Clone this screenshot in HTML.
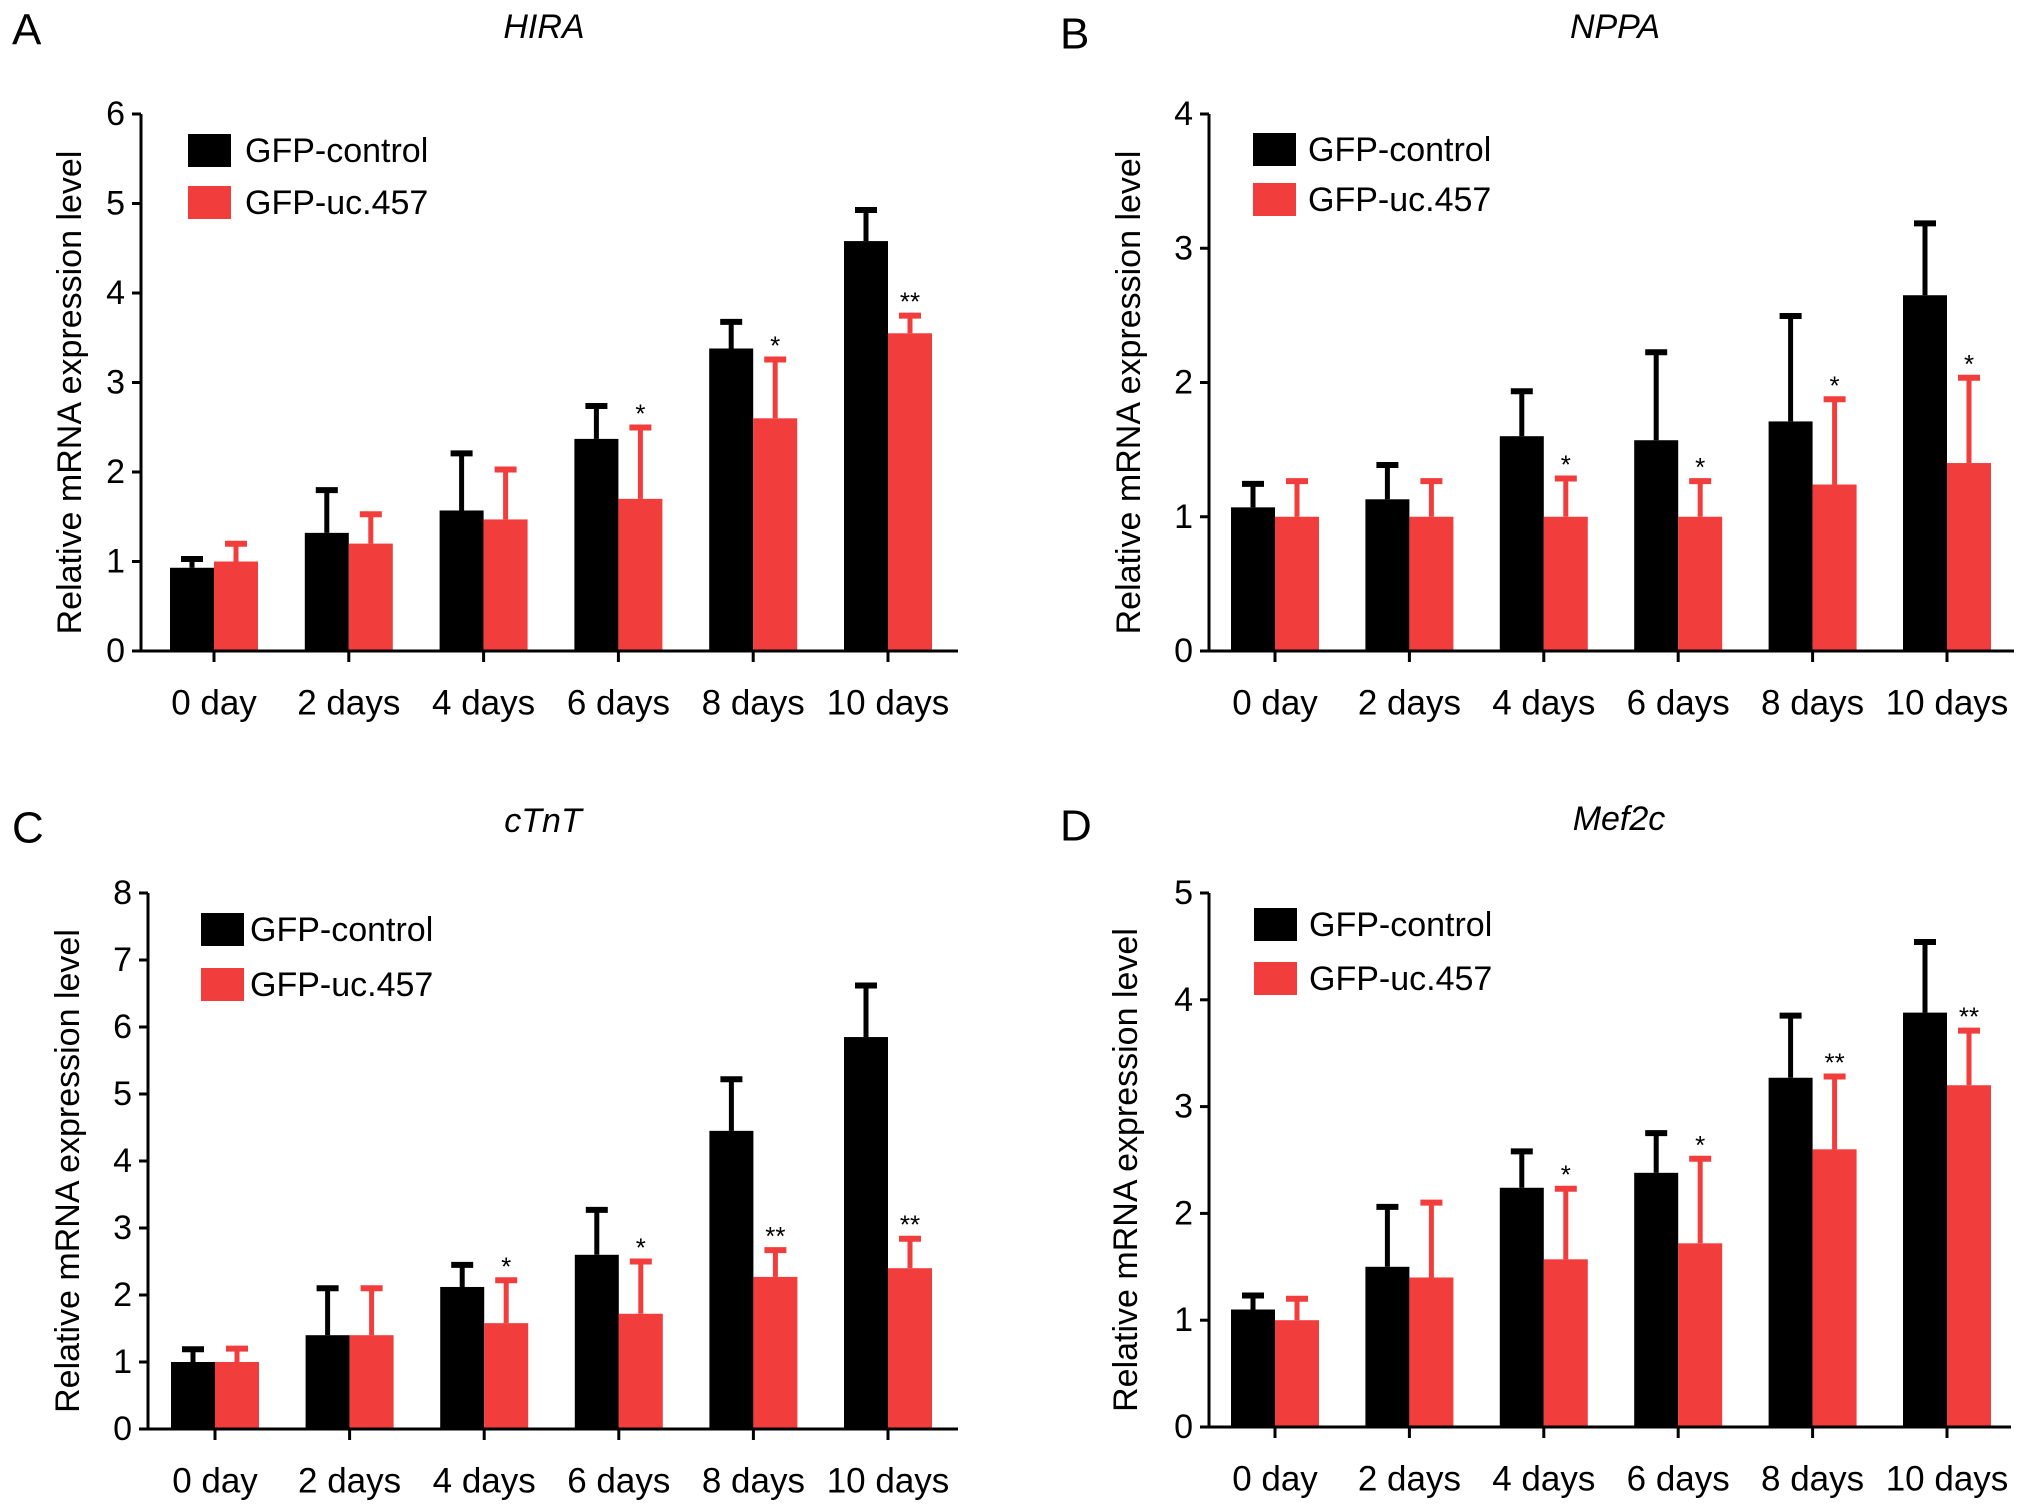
<!DOCTYPE html>
<html><head><meta charset="utf-8">
<style>
html,body{margin:0;padding:0;background:#fff;}
svg{display:block;font-family:"Liberation Sans",Arial,sans-serif;}
</style></head>
<body>
<svg id="fig" width="2032" height="1512" viewBox="0 0 2032 1512"></svg>
<script>
const categories = ["0 day","2 days","4 days","6 days","8 days","10 days"];
const hiraControl = [0.93,1.32,1.57,2.37,3.38,4.58];
const hiraControlErr = [1.05,1.82,2.23,2.76,3.70,4.95];
const hiraUc = [1.0,1.2,1.47,1.7,2.6,3.55];
const hiraUcErr = [1.22,1.55,2.05,2.52,3.28,3.77];
const hiraStars = ["","","","*","*","**"];
const hiraTicks = [0,1,2,3,4,5,6];
const nppaControl = [1.07,1.13,1.6,1.57,1.71,2.65];
const nppaControlErr = [1.26,1.4,1.95,2.24,2.51,3.2];
const nppaUc = [1,1,1,1,1.24,1.4];
const nppaUcErr = [1.28,1.28,1.3,1.28,1.89,2.05];
const nppaStars = ["","","*","*","*","*"];
const nppaTicks = [0,1,2,3,4];
const ctntControl = [1.0,1.4,2.12,2.6,4.45,5.85];
const ctntControlErr = [1.22,2.13,2.48,3.3,5.25,6.65];
const ctntUc = [1.0,1.4,1.58,1.72,2.27,2.4];
const ctntUcErr = [1.23,2.13,2.25,2.53,2.7,2.87];
const ctntStars = ["","","*","*","**","**"];
const ctntTicks = [0,1,2,3,4,5,6,7,8];
const mefControl = [1.1,1.5,2.24,2.38,3.27,3.88];
const mefControlErr = [1.25,2.08,2.6,2.77,3.87,4.56];
const mefUc = [1.0,1.4,1.57,1.72,2.6,3.2];
const mefUcErr = [1.22,2.12,2.25,2.53,3.3,3.73];
const mefStars = ["","","*","*","**","**"];
const mefTicks = [0,1,2,3,4,5];

const NS="http://www.w3.org/2000/svg";
const svg=document.getElementById('fig');
const RED="#f23d3d";
function mk(tag,attrs,parent){const e=document.createElementNS(NS,tag);for(const k in attrs)e.setAttribute(k,attrs[k]);(parent||svg).appendChild(e);return e;}

function panel(p){
  const g=mk('g',{});
  
  
  const ymax=p.ticks[p.ticks.length-1];
  const Y=v=>p.y0-(p.y0-p.yTop)*v/ymax;
  const step=(p.cLast-p.c0)/(categories.length-1);
  const X=i=>p.c0+i*step;
  const L=mk('text',{x:p.lx,y:p.ly,'font-size':44,'dominant-baseline':'central'},g);
  L.textContent=p.letter;
  
  
  const T=mk('text',{x:p.tx,y:p.ty,'font-size':34,'font-style':'italic','text-anchor':'middle','dominant-baseline':'central'},g);
  T.textContent=p.title;
  
  
  const yt=mk('text',{x:0,y:0,'font-size':34,'text-anchor':'middle','dominant-baseline':'central',transform:`translate(${p.ytx},${(p.y0+p.yTop)/2+10}) rotate(-90)`},g);
  yt.textContent="Relative mRNA expression level";
  
  
  for(let i=0;i<categories.length;i++){
    const c=X(i);
    [[p.ctrl,p.ctrlErr,'#000',c-44,'bar-control'],[p.uc,p.ucErr,RED,c,'bar-uc457']].forEach(s=>{
      const v=s[0][i],e=s[1][i],x=s[3];
      const ex=x+22;
      const el=mk('line',{x1:ex,x2:ex,y1:Y(v),y2:Y(e),stroke:s[2],'stroke-width':5},g);
      
      
      const cap=mk('line',{x1:ex-11,x2:ex+11,y1:Y(e)+2,y2:Y(e)+2,stroke:s[2],'stroke-width':6},g);
      
      
      const r=mk('rect',{x:x,y:Y(v),width:44,height:p.y0-Y(v),fill:s[2]},g);
      
      
    });
    if(p.stars[i]){
      const st=mk('text',{x:c+22,y:Y(p.ucErr[i])-12,'font-size':26,'text-anchor':'middle','dominant-baseline':'central'},g);
      st.textContent=p.stars[i];
      
      
    }
    const tk=mk('line',{x1:c,x2:c,y1:p.y0,y2:p.y0+11,stroke:'#000','stroke-width':3},g);
    
    
    const xl=mk('text',{x:c,y:p.y0+52,'font-size':35,'text-anchor':'middle','dominant-baseline':'central'},g);
    xl.textContent=categories[i];
    
    
  }
  const ya=mk('line',{x1:p.ax,x2:p.ax,y1:p.yTop,y2:p.y0+1.5,stroke:'#000','stroke-width':3},g);
  
  
  const xa=mk('line',{x1:p.ax,x2:p.axEnd,y1:p.y0,y2:p.y0,stroke:'#000','stroke-width':3},g);
  
  
  p.ticks.forEach(t=>{
    const tl=mk('line',{x1:p.ax-9,x2:p.ax,y1:Y(t),y2:Y(t),stroke:'#000','stroke-width':3},g);
    
    
    const tt=mk('text',{x:p.ax-16,y:Y(t),'font-size':34,'text-anchor':'end','dominant-baseline':'central'},g);
    tt.textContent=t;
    
    
  });
  [['#000','GFP-control',p.leg1,'legend-control'],[RED,'GFP-uc.457',p.leg2,'legend-uc457']].forEach(l=>{
    const lg=mk('g',{},g);
    
    
    mk('rect',{x:p.legX,y:l[2],width:43,height:33,fill:l[0]},lg);
    const t=mk('text',{x:p.legTx,y:l[2]+17,'font-size':34,'dominant-baseline':'central'},lg);
    t.textContent=l[1];
  });
}

panel({letter:'A',lx:12,ly:30,title:'HIRA',tx:544,ty:27,ytx:70,ax:141,axEnd:958,y0:651,yTop:114,c0:214,cLast:888,
  ticks:hiraTicks,ctrl:hiraControl,ctrlErr:hiraControlErr,uc:hiraUc,ucErr:hiraUcErr,stars:hiraStars,legX:188,legTx:245,leg1:134,leg2:186});
panel({letter:'B',lx:1060,ly:34,title:'NPPA',tx:1615,ty:27,ytx:1129,ax:1209,axEnd:2014,y0:651,yTop:114,c0:1275,cLast:1947,
  ticks:nppaTicks,ctrl:nppaControl,ctrlErr:nppaControlErr,uc:nppaUc,ucErr:nppaUcErr,stars:nppaStars,legX:1253,legTx:1308,leg1:133,leg2:183});
panel({letter:'C',lx:12,ly:828,title:'cTnT',tx:543,ty:821,ytx:68,ax:148,axEnd:958,y0:1429,yTop:893,c0:215,cLast:888,
  ticks:ctntTicks,ctrl:ctntControl,ctrlErr:ctntControlErr,uc:ctntUc,ucErr:ctntUcErr,stars:ctntStars,legX:201,legTx:250,leg1:913,leg2:968});
panel({letter:'D',lx:1060,ly:826,title:'Mef2c',tx:1619,ty:819,ytx:1126,ax:1209,axEnd:2011,y0:1427,yTop:893,c0:1275,cLast:1947,
  ticks:mefTicks,ctrl:mefControl,ctrlErr:mefControlErr,uc:mefUc,ucErr:mefUcErr,stars:mefStars,legX:1254,legTx:1309,leg1:908,leg2:962});
</script>
</body></html>
